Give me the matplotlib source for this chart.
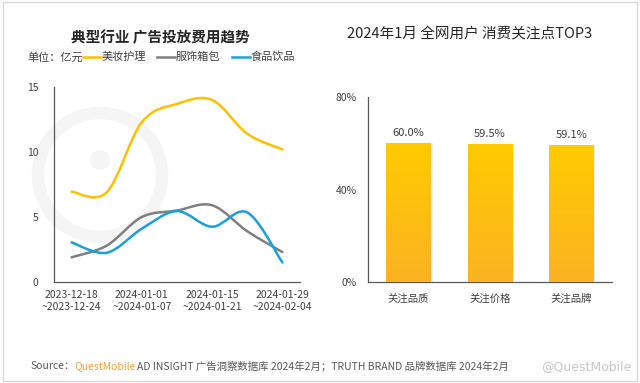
""" Ad spend trend + consumer focus TOP3 """
import numpy as np
import matplotlib
matplotlib.use("Agg")
import matplotlib.pyplot as plt
from matplotlib.path import Path
from matplotlib.patches import PathPatch, Rectangle, Circle
from matplotlib.lines import Line2D

plt.rcParams['font.family'] = ['Noto Sans CJK SC', 'DejaVu Sans']

# ---- data ----
week_labels = ["2023-12-18\n~2023-12-24", "2024-01-01\n~2024-01-07",
               "2024-01-15\n~2024-01-21", "2024-01-29\n~2024-02-04"]
weeks = [0, 1, 2, 3, 4, 5, 6]
beauty = [6.95, 6.9, 12.3, 13.7, 14.0, 11.4, 10.2]
apparel = [1.9, 2.8, 5.0, 5.5, 5.9, 3.9, 2.3]
food = [3.05, 2.25, 4.1, 5.45, 4.25, 5.35, 1.5]
series_names = ["美妆护理", "服饰箱包", "食品饮品"]
series_colors = ["#FFC000", "#808080", "#1AA0DA"]

focus_labels = ["关注品质", "关注价格", "关注品牌"]
focus_values = [0.600, 0.595, 0.591]

W, H = 640, 383


def fx(px):
    return px / W


def fy(py):
    return 1 - py / H


def smooth_path(xs, ys):
    """Catmull-Rom style cubic bezier through the points"""
    xs = np.asarray(xs, float)
    ys = np.asarray(ys, float)
    verts = [(xs[0], ys[0])]
    codes = [Path.MOVETO]
    n = len(xs)
    for i in range(n - 1):
        x0, y0 = (xs[i - 1], ys[i - 1]) if i > 0 else (xs[i], ys[i])
        x3, y3 = (xs[i + 2], ys[i + 2]) if i + 2 < n else (xs[i + 1], ys[i + 1])
        x1, y1 = xs[i], ys[i]
        x2, y2 = xs[i + 1], ys[i + 1]
        t = 0.5 / 3
        c1 = (x1 + (x2 - x0) * t, y1 + (y2 - y0) * t)
        c2 = (x2 - (x3 - x1) * t, y2 - (y3 - y1) * t)
        verts += [c1, c2, (x2, y2)]
        codes += [Path.CURVE4] * 3
    return Path(verts, codes)


fig = plt.figure(figsize=(6.4, 3.83), dpi=100)
fig.patch.set_facecolor("white")

# faint logo mark + frame on a background axes
bg = fig.add_axes([0, 0, 1, 1], zorder=-10)
bg.set_xlim(0, W)
bg.set_ylim(H, 0)
bg.axis("off")
bg.add_patch(Circle((100, 175), 62, fill=False, lw=9, ec="#f5f5f5"))
bg.add_patch(Circle((100, 160), 10, fill=True, ec="none", fc="#f5f5f5"))
bg.add_patch(Rectangle((3, 2), 634, 379, fill=False, ec="#d9d9d9", lw=1))

# ---- left: line chart ----
ax1 = fig.add_axes([fx(54), fy(282), fx(300 - 54), (282 - 87) / H])
ax1.patch.set_alpha(0)
for vals, col in zip([beauty, apparel, food], series_colors):
    ax1.add_patch(PathPatch(smooth_path(weeks, vals), fill=False, ec=col,
                            lw=1.8, capstyle="round"))
ax1.set_xlim(-0.5, 6.5)
ax1.set_ylim(0, 15)
ax1.set_yticks([0, 5, 10, 15])
ax1.set_xticks(weeks[::2])
ax1.set_xticklabels(week_labels)
ax1.tick_params(length=0, labelsize=7.5, colors="#404040")
ax1.tick_params(axis="y", pad=11)
ax1.tick_params(axis="x", pad=6)
for s in ["top", "right"]:
    ax1.spines[s].set_visible(False)
for s in ["left", "bottom"]:
    ax1.spines[s].set_color("#595959")
    ax1.spines[s].set_linewidth(0.9)

fig.text(fx(160), fy(37), "典型行业 广告投放费用趋势", fontsize=10.5,
         fontweight="bold", ha="center", va="center", color="#262626")
fig.text(fx(27), fy(57), "单位：亿元", fontsize=8, ha="left", va="center",
         color="#404040")
leg_x = [83, 157, 232]
for lx, name, col in zip(leg_x, series_names, series_colors):
    fig.add_artist(Line2D([fx(lx), fx(lx + 18)], [fy(57), fy(57)],
                          color=col, lw=1.8, transform=fig.transFigure))
    fig.text(fx(lx + 19), fy(57), name, fontsize=8, ha="left", va="center",
             color="#404040")

# ---- right: bar chart ----
ax2 = fig.add_axes([fx(368), fy(282), fx(612 - 368), (282 - 97) / H])
ax2.patch.set_alpha(0)
xpos = np.arange(len(focus_labels))
ax2.bar(xpos + 0.02, focus_values, width=0.55, color="#ececec", zorder=1)
bars = ax2.bar(xpos, focus_values, width=0.55, color="none", zorder=2)
grad = np.linspace(0, 1, 256).reshape(-1, 1)
cmap = matplotlib.colors.LinearSegmentedColormap.from_list(
    "g", ["#FBB322", "#FFCB00"])
for b, v in zip(bars, focus_values):
    im = ax2.imshow(grad, cmap=cmap, aspect="auto", origin="lower",
                    extent=[b.get_x(), b.get_x() + b.get_width(), 0, v], zorder=3)
    im.set_clip_path(b)
    ax2.annotate(f"{v * 100:.1f}%", (b.get_x() + b.get_width() / 2, v),
                 xytext=(0, 4), textcoords="offset points", ha="center",
                 va="bottom", fontsize=8, color="#404040")
ax2.set_xlim(-0.5, 2.5)
ax2.set_ylim(0, 0.8)
ax2.set_yticks([0, 0.4, 0.8])
ax2.set_yticklabels(["0%", "40%", "80%"])
ax2.set_xticks(xpos)
ax2.set_xticklabels(focus_labels)
ax2.tick_params(length=0, labelsize=7.5, colors="#404040")
ax2.tick_params(axis="y", pad=8)
ax2.tick_params(axis="x", pad=8)
for s in ["top", "right"]:
    ax2.spines[s].set_visible(False)
for s in ["left", "bottom"]:
    ax2.spines[s].set_color("#595959")
    ax2.spines[s].set_linewidth(0.9)

fig.text(fx(470), fy(34), "2024年1月 全网用户 消费关注点TOP3", fontsize=10.5,
         ha="center", va="center", color="#262626")

# ---- footer ----
t1 = fig.text(fx(30), fy(366), "Source：", fontsize=7.5, ha="left",
              va="center", color="#595959")
fig.canvas.draw()
r = fig.canvas.get_renderer()
bb = t1.get_window_extent(r)
t2 = fig.text(bb.x1 / W, fy(366), "QuestMobile", fontsize=7.5, ha="left",
              va="center", color="#F7A033")
bb = t2.get_window_extent(r)
fig.text(bb.x1 / W + 0.002, fy(366),
         "AD INSIGHT 广告洞察数据库 2024年2月；TRUTH BRAND 品牌数据库 2024年2月",
         fontsize=7.5, ha="left", va="center", color="#595959")
fig.text(fx(632), fy(367), "@QuestMobile", fontsize=9, ha="right",
         va="center", color="#c8c8c8", family="DejaVu Sans")

fig.savefig("out.png", dpi=100)
